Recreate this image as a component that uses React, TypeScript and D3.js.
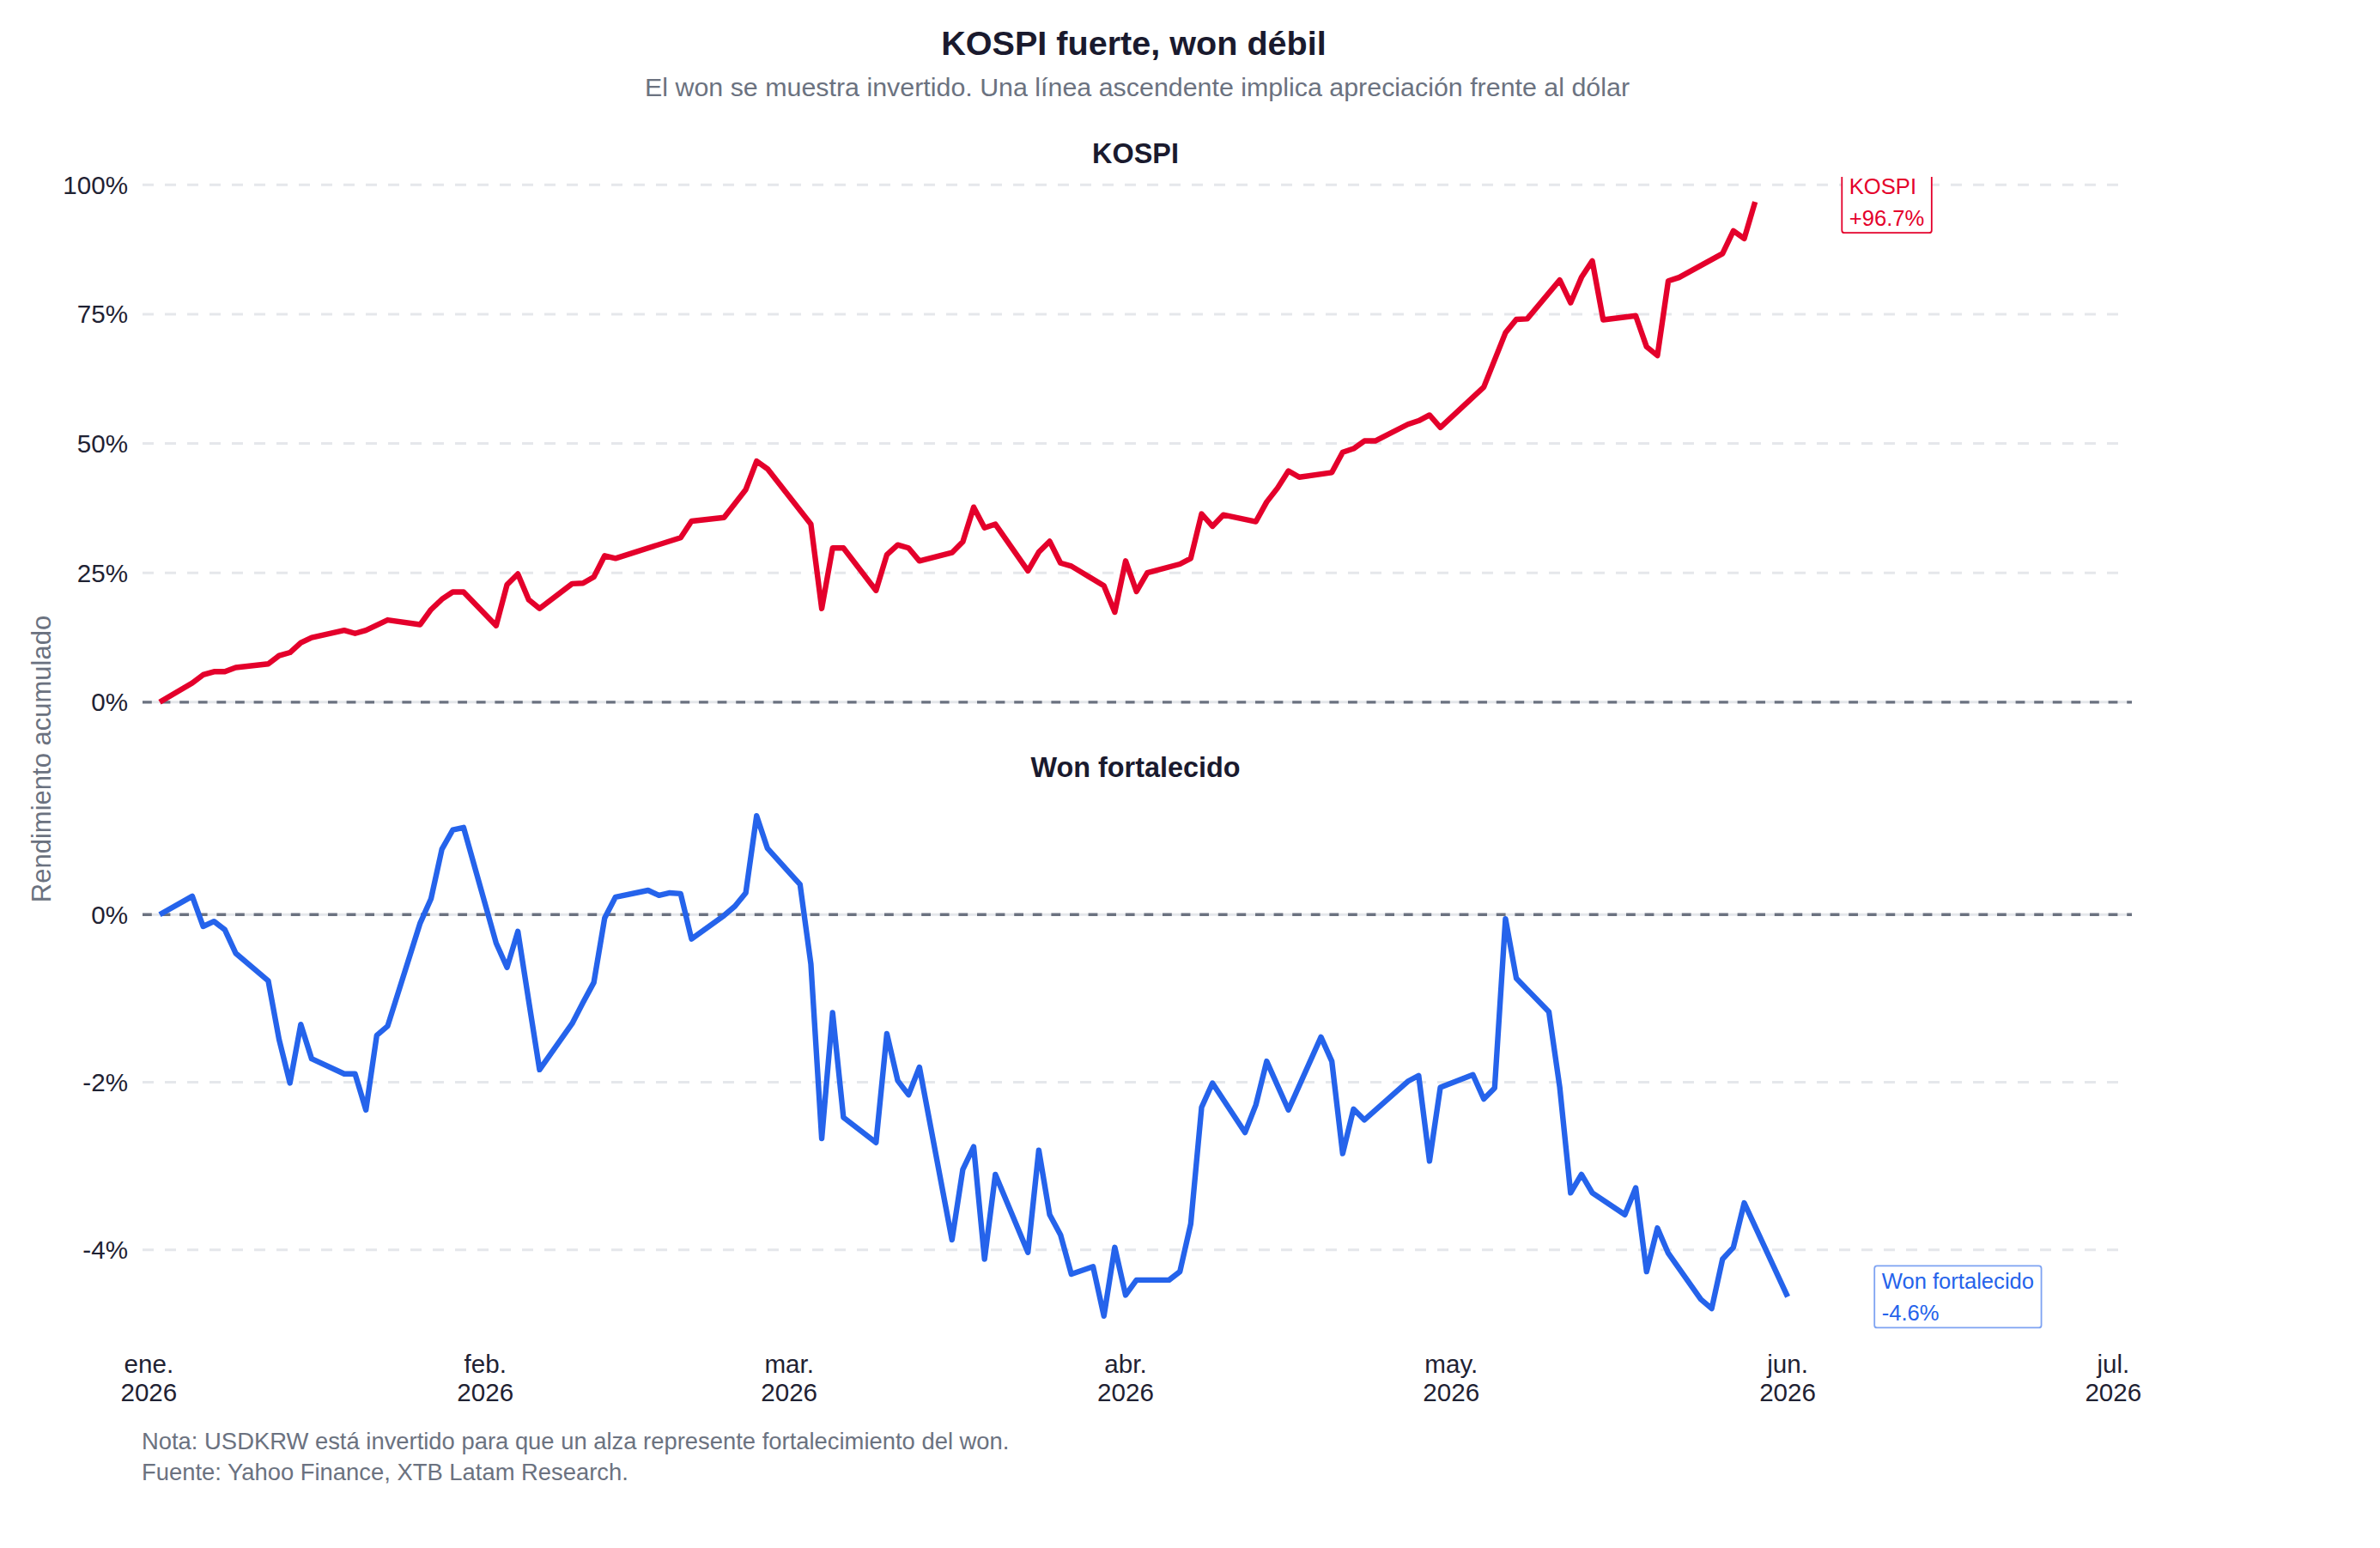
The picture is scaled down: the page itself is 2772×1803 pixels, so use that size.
import { useEffect, useRef } from "react";
import * as d3 from "d3";

// Rendimiento acumulado del KOSPI (%)
const kospiDates = [
  "2026-01-02", "2026-01-05", "2026-01-06", "2026-01-07", "2026-01-08", "2026-01-09",
  "2026-01-12", "2026-01-13", "2026-01-14", "2026-01-15", "2026-01-16",
  "2026-01-19", "2026-01-20", "2026-01-21", "2026-01-22", "2026-01-23",
  "2026-01-26", "2026-01-27", "2026-01-28", "2026-01-29", "2026-01-30",
  "2026-02-02", "2026-02-03", "2026-02-04", "2026-02-05", "2026-02-06",
  "2026-02-09", "2026-02-10", "2026-02-11", "2026-02-12", "2026-02-13",
  "2026-02-19", "2026-02-20",
  "2026-02-23", "2026-02-24", "2026-02-25", "2026-02-26", "2026-02-27",
  "2026-03-03", "2026-03-04", "2026-03-05", "2026-03-06",
  "2026-03-09", "2026-03-10", "2026-03-11", "2026-03-12", "2026-03-13",
  "2026-03-16", "2026-03-17", "2026-03-18", "2026-03-19", "2026-03-20",
  "2026-03-23", "2026-03-24", "2026-03-25", "2026-03-26", "2026-03-27",
  "2026-03-30", "2026-03-31", "2026-04-01", "2026-04-02", "2026-04-03",
  "2026-04-06", "2026-04-07", "2026-04-08", "2026-04-09", "2026-04-10",
  "2026-04-13", "2026-04-14", "2026-04-15", "2026-04-16", "2026-04-17",
  "2026-04-20", "2026-04-21", "2026-04-22", "2026-04-23", "2026-04-24",
  "2026-04-27", "2026-04-28", "2026-04-29", "2026-04-30",
  "2026-05-04", "2026-05-06", "2026-05-07", "2026-05-08",
  "2026-05-11", "2026-05-12", "2026-05-13", "2026-05-14", "2026-05-15",
  "2026-05-18", "2026-05-19", "2026-05-20", "2026-05-21", "2026-05-22",
  "2026-05-26", "2026-05-27", "2026-05-28", "2026-05-29",
];
const kospiValues = [
  0, 3.7, 5.3, 5.9, 5.9, 6.7,
  7.4, 9.0, 9.6, 11.5, 12.5,
  13.9, 13.3, 13.9, 14.9, 15.9,
  15.0, 17.9, 19.9, 21.3, 21.3,
  14.8, 22.7, 24.8, 19.8, 18.1,
  22.9, 23.0, 24.2, 28.3, 27.8,
  31.8, 35.0,
  35.7, 38.4, 41.1, 46.6, 45.1,
  34.4, 18.1, 29.8, 29.8,
  21.6, 28.5, 30.4, 29.8, 27.3,
  28.9, 31.0, 37.7, 33.7, 34.4,
  25.4, 29.0, 31.1, 26.9, 26.3,
  22.5, 17.4, 27.3, 21.4, 25.0,
  26.7, 27.8, 36.4, 34.0, 36.2,
  34.9, 38.7, 41.4, 44.7, 43.5,
  44.4, 48.3, 49.0, 50.5, 50.5,
  53.7, 54.4, 55.5, 53.1,
  60.9, 71.4, 74.0, 74.1,
  81.6, 77.2, 82.1, 85.3, 73.9,
  74.7, 68.7, 67.0, 81.4, 82.1,
  86.7, 91.1, 89.6, 96.7,
];

// Won fortalecido (USDKRW invertido), rendimiento acumulado (%)
const wonDates = [
  "2026-01-02", "2026-01-05", "2026-01-06", "2026-01-07", "2026-01-08", "2026-01-09",
  "2026-01-12", "2026-01-13", "2026-01-14", "2026-01-15", "2026-01-16",
  "2026-01-19", "2026-01-20", "2026-01-21", "2026-01-22", "2026-01-23",
  "2026-01-26", "2026-01-27", "2026-01-28", "2026-01-29", "2026-01-30",
  "2026-02-02", "2026-02-03", "2026-02-04", "2026-02-05", "2026-02-06",
  "2026-02-09", "2026-02-10", "2026-02-11", "2026-02-12", "2026-02-13",
  "2026-02-16", "2026-02-17", "2026-02-18", "2026-02-19", "2026-02-20",
  "2026-02-23", "2026-02-24", "2026-02-25", "2026-02-26", "2026-02-27",
  "2026-03-02", "2026-03-03", "2026-03-04", "2026-03-05", "2026-03-06",
  "2026-03-09", "2026-03-10", "2026-03-11", "2026-03-12", "2026-03-13",
  "2026-03-16", "2026-03-17", "2026-03-18", "2026-03-19", "2026-03-20",
  "2026-03-23", "2026-03-24", "2026-03-25", "2026-03-26", "2026-03-27",
  "2026-03-29", "2026-03-30", "2026-03-31", "2026-04-01", "2026-04-02",
  "2026-04-05", "2026-04-06", "2026-04-07", "2026-04-08", "2026-04-09",
  "2026-04-12", "2026-04-13", "2026-04-14", "2026-04-16",
  "2026-04-19", "2026-04-20", "2026-04-21", "2026-04-22", "2026-04-23",
  "2026-04-27", "2026-04-28", "2026-04-29", "2026-04-30",
  "2026-05-03", "2026-05-04", "2026-05-05", "2026-05-06", "2026-05-07",
  "2026-05-10", "2026-05-11", "2026-05-12", "2026-05-13", "2026-05-14",
  "2026-05-17", "2026-05-18", "2026-05-19", "2026-05-20", "2026-05-21",
  "2026-05-24", "2026-05-25", "2026-05-26", "2026-05-27", "2026-05-28",
  "2026-06-01",
];
const wonValues = [
  0, 0.22, -0.14, -0.08, -0.18, -0.46,
  -0.79, -1.49, -2.01, -1.31, -1.72,
  -1.9, -1.9, -2.33, -1.44, -1.33,
  -0.1, 0.19, 0.78, 1.01, 1.04,
  -0.34, -0.63, -0.2, -1.03, -1.85,
  -1.3, -1.05, -0.81, -0.04, 0.21,
  0.29, 0.23, 0.26, 0.25, -0.29,
  -0.01, 0.1, 0.26, 1.18, 0.79,
  0.36, -0.59, -2.67, -1.17, -2.42,
  -2.72, -1.42, -1.98, -2.15, -1.82,
  -3.88, -3.04, -2.77, -4.11, -3.1,
  -4.03, -2.81, -3.58, -3.82, -4.29,
  -4.2, -4.79, -3.97, -4.54, -4.36,
  -4.36, -4.26, -3.69, -2.3, -2.01,
  -2.6, -2.27, -1.75, -2.33,
  -1.46, -1.75, -2.85, -2.32, -2.45,
  -1.99, -1.92, -2.94, -2.06,
  -1.91, -2.2, -2.07, -0.05, -0.76,
  -1.16, -2.06, -3.32, -3.1, -3.32,
  -3.58, -3.26, -4.26, -3.74, -4.04,
  -4.59, -4.7, -4.11, -3.97, -3.44,
  -4.56,
];

const kospiTicks = [0, 25, 50, 75, 100];
const wonTicks = [-4, -2, 0];
const monthTicks = ["2026-01-01", "2026-02-01", "2026-03-01", "2026-04-01", "2026-05-01", "2026-06-01", "2026-07-01"];
const monthLabels = ["ene.", "feb.", "mar.", "abr.", "may.", "jun.", "jul."];
const yearLabel = "2026";

const W = 2772;
const H = 1803;
const FONT = "'Liberation Sans', Arial, Helvetica, sans-serif";
const parse = d3.timeParse("%Y-%m-%d");

const App = () => {
  const svgRef = useRef<SVGSVGElement>(null);

  useEffect(() => {
    const svg = d3.select(svgRef.current);
    svg.selectAll("*").remove();
    svg.attr("font-family", FONT);

    const left = 166;
    const right = 2475;
    const cx = (left + right) / 2;

    const x = d3
      .scaleTime()
      .domain([new Date(2025, 11, 31, 10), new Date(2026, 6, 2, 2)])
      .range([left, right]);

    const panels = [
      {
        title: "KOSPI",
        dates: kospiDates,
        values: kospiValues,
        ticks: kospiTicks,
        color: "#e4002b",
        boxStroke: "#e4002b",
        top: 206,
        bottom: 847,
      },
      {
        title: "Won fortalecido",
        dates: wonDates,
        values: wonValues,
        ticks: wonTicks,
        color: "#2563eb",
        boxStroke: "#7ea3f2",
        top: 921,
        bottom: 1562,
      },
    ];

    // Titles
    svg
      .append("text")
      .attr("x", cx)
      .attr("y", 64)
      .attr("text-anchor", "middle")
      .attr("font-size", 39.6)
      .attr("font-weight", "bold")
      .attr("fill", "#1a1a2e")
      .text("KOSPI fuerte, won débil");

    svg
      .append("text")
      .attr("x", cx + 4)
      .attr("y", 112)
      .attr("text-anchor", "middle")
      .attr("font-size", 30.4)
      .attr("fill", "#6b7280")
      .text("El won se muestra invertido. Una línea ascendente implica apreciación frente al dólar");

    panels.forEach((p, i) => {
      const data = p.dates.map((d, k) => ({ date: parse(d) as Date, value: p.values[k] }));
      const [lo, hi] = d3.extent(p.values) as [number, number];
      const pad = (hi - lo) * 0.05;
      const y = d3
        .scaleLinear()
        .domain([lo - pad, hi + pad])
        .range([p.bottom, p.top]);

      const g = svg.append("g");

      // Subplot title
      g.append("text")
        .attr("x", cx + 2)
        .attr("y", p.top - 16)
        .attr("text-anchor", "middle")
        .attr("font-size", 32.4)
        .attr("font-weight", "bold")
        .attr("fill", "#1a1a2e")
        .text(p.title);

      // Grid
      g.selectAll(".grid")
        .data(p.ticks.filter((t) => t !== 0))
        .enter()
        .append("line")
        .attr("x1", left)
        .attr("x2", right)
        .attr("y1", (t) => y(t))
        .attr("y2", (t) => y(t))
        .attr("stroke", "#e5e7eb")
        .attr("stroke-width", 3)
        .attr("stroke-dasharray", "13,13");

      // Zero line
      g.append("line")
        .attr("x1", left)
        .attr("x2", right + 8)
        .attr("y1", y(0))
        .attr("y2", y(0))
        .attr("stroke", "#e5e7eb")
        .attr("stroke-width", 3);
      g.append("line")
        .attr("x1", left)
        .attr("x2", right + 8)
        .attr("y1", y(0))
        .attr("y2", y(0))
        .attr("stroke", "#6b7280")
        .attr("stroke-width", 3.4)
        .attr("stroke-dasharray", "10.8,10.8");

      // Y tick labels
      g.selectAll(".ylab")
        .data(p.ticks)
        .enter()
        .append("text")
        .attr("x", 149)
        .attr("y", (t) => y(t))
        .attr("dy", "0.35em")
        .attr("text-anchor", "end")
        .attr("font-size", 29.6)
        .attr("fill", "#1f2233")
        .text((t) => `${t}%`);

      // Series line
      const line = d3
        .line<{ date: Date; value: number }>()
        .x((d) => x(d.date))
        .y((d) => y(d.value));

      g.append("path")
        .datum(data)
        .attr("d", line)
        .attr("fill", "none")
        .attr("stroke", p.color)
        .attr("stroke-width", 6.4)
        .attr("stroke-linejoin", "round");

      // End label box
      const last = data[data.length - 1];
      const clipId = `clip-${i}`;
      svg
        .append("clipPath")
        .attr("id", clipId)
        .append("rect")
        .attr("x", 0)
        .attr("y", p.top)
        .attr("width", W)
        .attr("height", p.bottom - p.top);

      const ann = g.append("g").attr("clip-path", `url(#${clipId})`);
      const bx = x(d3.timeDay.offset(last.date, 8));
      const by = y(last.value);
      const boxH = 72;
      const rect = ann
        .append("rect")
        .attr("y", by - boxH / 2)
        .attr("height", boxH)
        .attr("x", bx)
        .attr("rx", 3)
        .attr("fill", "#ffffff")
        .attr("stroke", p.boxStroke)
        .attr("stroke-width", 1.8);
      const t1 = ann
        .append("text")
        .attr("x", bx + 8.5)
        .attr("y", by - 9.5)
        .attr("font-size", 25.6)
        .attr("fill", p.color)
        .text(p.title);
      const sign = last.value > 0 ? "+" : "";
      const t2 = ann
        .append("text")
        .attr("x", bx + 8.5)
        .attr("y", by + 27.5)
        .attr("font-size", 25.6)
        .attr("fill", p.color)
        .text(`${sign}${last.value.toFixed(1)}%`);
      const tw = Math.max(
        (t1.node() as SVGTextElement).getComputedTextLength(),
        (t2.node() as SVGTextElement).getComputedTextLength()
      );
      rect.attr("width", tw + 17);
    });

    // X axis labels (shared)
    const xl = svg.append("g");
    monthTicks.forEach((m, k) => {
      const px = x(parse(m) as Date);
      xl.append("text")
        .attr("x", px)
        .attr("y", 1599)
        .attr("text-anchor", "middle")
        .attr("font-size", 29.6)
        .attr("fill", "#1f2233")
        .text(monthLabels[k]);
      xl.append("text")
        .attr("x", px)
        .attr("y", 1631.5)
        .attr("text-anchor", "middle")
        .attr("font-size", 29.6)
        .attr("fill", "#1f2233")
        .text(yearLabel);
    });

    // Y axis title
    svg
      .append("text")
      .attr("transform", `translate(59,${(206 + 1562) / 2}) rotate(-90)`)
      .attr("text-anchor", "middle")
      .attr("font-size", 31)
      .attr("fill", "#6b7280")
      .text("Rendimiento acumulado");

    // Footnote
    svg
      .append("text")
      .attr("x", 165)
      .attr("y", 1688)
      .attr("font-size", 27.4)
      .attr("fill", "#6b7280")
      .text("Nota: USDKRW está invertido para que un alza represente fortalecimiento del won.");
    svg
      .append("text")
      .attr("x", 165)
      .attr("y", 1724)
      .attr("font-size", 27.4)
      .attr("fill", "#6b7280")
      .text("Fuente: Yahoo Finance, XTB Latam Research.");
  }, []);

  return (
    <svg
      ref={svgRef}
      width={W}
      height={H}
      style={{ position: "absolute", left: 0, top: 0, background: "#ffffff", display: "block" }}
    ></svg>
  );
};

export default App;
